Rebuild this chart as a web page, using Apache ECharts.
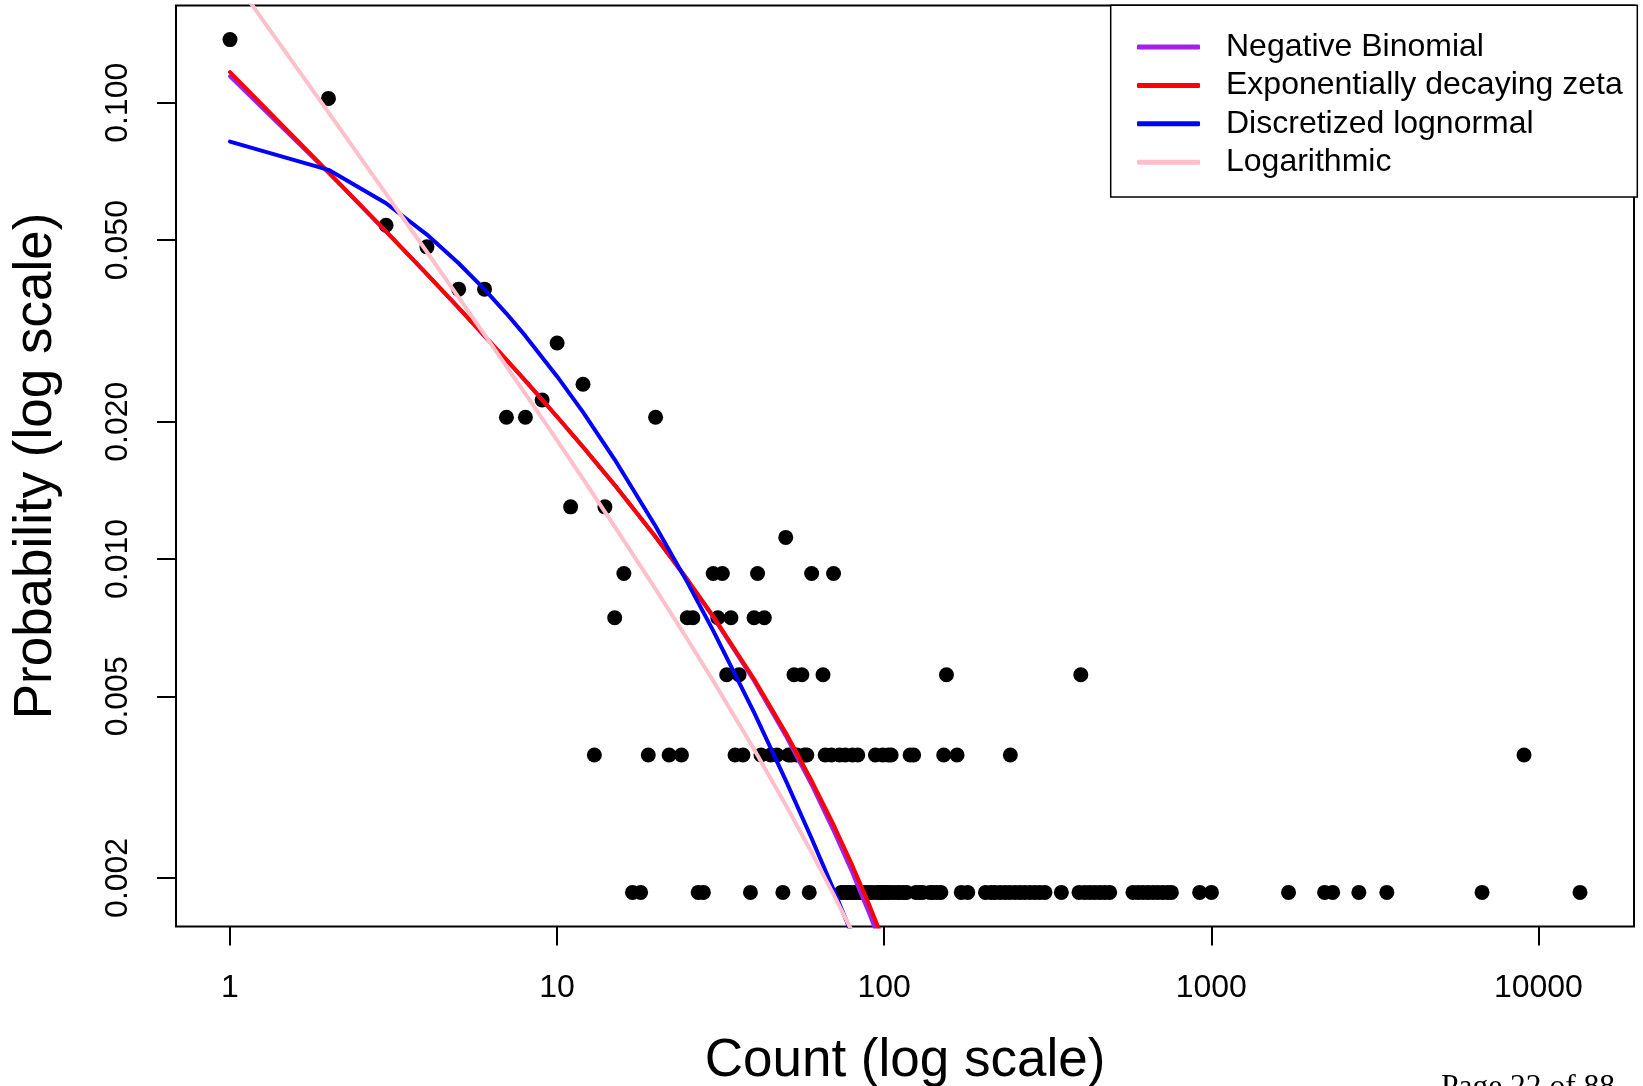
<!DOCTYPE html>
<html>
<head>
<meta charset="utf-8">
<script src="https://cdn.jsdelivr.net/npm/echarts@6/dist/echarts.min.js"></script>
<style>
html,body{margin:0;padding:0;background:#fff;}
#chart{width:1643px;height:1086px;}
</style>
</head>
<body>
<div id="chart"></div>
<script>
// ---- Observed data: count value and how often it occurred ----
const commonCounts = [1, 2, 3, 4, 5, 6, 7, 8, 9, 10, 11, 12, 14, 20, 50];
const commonFreqs  = [74, 55, 29, 26, 21, 21, 11, 11, 12, 16, 7, 13, 7, 11, 6];
const countsSeen5 = [16, 30, 32, 41, 60, 70];
const countsSeen4 = [15, 25, 26, 31, 34, 40, 43];
const countsSeen3 = [33, 36, 53, 56, 65, 155, 399];
const countsSeen2 = [13, 19, 22, 24, 35, 37, 42, 45, 47, 51, 52, 54, 57, 58, 66, 69, 73, 76, 80, 83,
                     94, 99, 103, 105, 120, 123, 152, 167, 243, 9036];
const countsSeen1 = [17, 18, 27, 28, 39, 49, 59, 74, 75, 77, 78, 79, 81, 82, 84, 85, 86, 88, 90, 92,
                     95, 97, 98, 100, 102, 104, 107, 110, 112, 115, 117, 125, 128, 131, 138, 141, 145, 149,
                     172, 180, 204, 212, 218, 226, 234, 242, 251, 260, 269, 279, 289, 299, 310, 348,
                     394, 410, 425, 440, 456, 472, 489, 576, 597, 618, 640, 663, 686, 710, 735, 755,
                     921, 1001, 1722, 2220, 2350, 2825, 3440, 6725, 13400];

// ---- Fitted model curves (probability at each count) ----
const curveCounts   = [1, 2, 3, 4, 5, 6, 7, 8, 10, 12, 15, 20, 25, 30, 40, 50, 60, 70, 80, 90, 100];
const negBinomial   = [0.1143, 0.0703, 0.0522, 0.0421, 0.0355, 0.0308, 0.0273, 0.0246, 0.0205, 0.0176,
                       0.01452, 0.01117, 0.00900, 0.00746, 0.00541, 0.00410, 0.00320, 0.00254, 0.00205, 0.00167, 0.00138];
const expZeta       = [0.1167, 0.07047, 0.05223, 0.04209, 0.03551, 0.03084, 0.02734, 0.02458, 0.02050, 0.01761,
                       0.01453, 0.01119, 0.009025, 0.007493, 0.005457, 0.004159, 0.003265, 0.002615, 0.002124, 0.001745, 0.001446];
const discLognormal = [0.08222, 0.07129, 0.06023, 0.05141, 0.04449, 0.03899, 0.03451, 0.03083, 0.02513, 0.02098,
                       0.01652, 0.01180, 0.008898, 0.006964, 0.004609, 0.003273, 0.002440, 0.001885, 0.001496, 0.001213, 0.001001];
const logarithmic   = [0.1916, 0.09527, 0.06316, 0.04709, 0.03746, 0.03102, 0.02644, 0.02301, 0.01820, 0.01499,
                       0.01178, 0.008590, 0.006677, 0.005406, 0.003828, 0.002890, 0.002274, 0.001840, 0.001520, 0.001204, 0.001084];

// ---- Tick values ----
const xTickValues = [1, 10, 100, 1000, 10000];
const yTickValues = [0.002, 0.005, 0.01, 0.02, 0.05, 0.1];

const seriesNames  = ['Negative Binomial', 'Exponentially decaying zeta', 'Discretized lognormal', 'Logarithmic'];
const seriesColors = ['#A020F0', '#FF0000', '#0000FF', '#FFC0CB'];
const curveValues  = [negBinomial, expZeta, discLognormal, logarithmic];

// ---- build points ----
const pairs = [];
commonCounts.forEach((c, i) => pairs.push([c, commonFreqs[i]]));
[[countsSeen1, 1], [countsSeen2, 2], [countsSeen3, 3], [countsSeen4, 4], [countsSeen5, 5]]
  .forEach(([arr, f]) => arr.forEach(c => pairs.push([c, f])));
const total = pairs.reduce((s, p) => s + p[1], 0);
const points = pairs.map(p => [p[0], p[1] / total]);

// R-style axis ranges (4% padding in log space)
const lx = points.map(p => Math.log10(p[0]));
const ly = points.map(p => Math.log10(p[1]));
const lxMin = Math.min(...lx), lxMax = Math.max(...lx);
const lyMin = Math.min(...ly), lyMax = Math.max(...ly);
const xLo = lxMin - 0.04 * (lxMax - lxMin), xHi = lxMax + 0.04 * (lxMax - lxMin);
const yLo = lyMin - 0.04 * (lyMax - lyMin), yHi = lyMax + 0.04 * (lyMax - lyMin);

const FONT = '"Liberation Sans", Arial, Helvetica, sans-serif';

const chart = echarts.init(document.getElementById('chart'), null, {renderer: 'canvas'});
const option = {
  animation: false,
  backgroundColor: '#ffffff',
  grid: {
    left: 176, right: 9, top: 5.5, bottom: 159.5,
    show: true, borderColor: '#000', borderWidth: 2, backgroundColor: 'transparent',
    containLabel: false, outerBoundsMode: 'none'
  },
  xAxis: [
    { type: 'log', logBase: 10, min: Math.pow(10, xLo), max: Math.pow(10, xHi), position: 'top', show: false },
    { type: 'value', min: xLo, max: xHi, position: 'bottom',
      axisLine: {show: false}, splitLine: {show: false},
      axisTick: {show: true, customValues: xTickValues.map(Math.log10), length: 19,
                 lineStyle: {color: '#000', width: 2}},
      axisLabel: {show: true, customValues: xTickValues.map(Math.log10),
                  formatter: v => String(Math.round(Math.pow(10, v))),
                  fontSize: 32, color: '#000', fontFamily: FONT, margin: 46},
      name: 'Count (log scale)', nameLocation: 'middle', nameGap: 108,
      nameTextStyle: {fontSize: 53, color: '#000', fontFamily: FONT}
    }
  ],
  yAxis: [
    { type: 'log', logBase: 10, min: Math.pow(10, yLo), max: Math.pow(10, yHi), position: 'right', show: false },
    { type: 'value', min: yLo, max: yHi, position: 'left',
      axisLine: {show: false}, splitLine: {show: false},
      axisTick: {show: true, customValues: yTickValues.map(Math.log10), length: 19,
                 lineStyle: {color: '#000', width: 2}},
      axisLabel: {show: true, customValues: yTickValues.map(Math.log10), rotate: 90,
                  formatter: v => Math.pow(10, v).toFixed(3),
                  fontSize: 32, color: '#000', fontFamily: FONT, margin: 42},
      name: 'Probability (log scale)', nameLocation: 'middle', nameGap: 113,
      nameTextStyle: {fontSize: 53, color: '#000', fontFamily: FONT}
    }
  ],
  legend: {
    left: 1110.7, top: 5.2, orient: 'vertical', align: 'left',
    padding: [22.6, 14.6, 15.5, 26.3],
    itemWidth: 63, itemHeight: 5, itemGap: 0, icon: 'roundRect',
    borderColor: '#000', borderWidth: 1.5, backgroundColor: '#fff',
    selectedMode: false,
    textStyle: {fontSize: 32, color: '#000', fontFamily: FONT, lineHeight: 38.4, padding: [0, 0, 0, 21]},
    data: seriesNames
  },
  series: [
    { type: 'scatter', name: 'observed', xAxisIndex: 0, yAxisIndex: 0, symbol: 'circle', symbolSize: 15,
      itemStyle: {color: '#000', opacity: 1}, silent: true, data: points, z: 2 }
  ].concat(seriesNames.map((n, i) => ({
      type: 'line', name: n, xAxisIndex: 0, yAxisIndex: 0, showSymbol: false, symbol: 'none',
      clip: true, silent: true, z: 3,
      lineStyle: {color: seriesColors[i], width: 4, cap: 'round', join: 'round', opacity: 1},
      itemStyle: {color: seriesColors[i]},
      data: curveCounts.map((c, k) => [c, curveValues[i][k]])
  }))),
  graphic: [
    { type: 'text', left: 1441, top: 1071.5, silent: true,
      style: {text: 'Page 22 of 88', font: '31.5px "Liberation Serif", "Times New Roman", serif', fill: '#000'} }
  ]
};
chart.setOption(option);
</script>
</body>
</html>
